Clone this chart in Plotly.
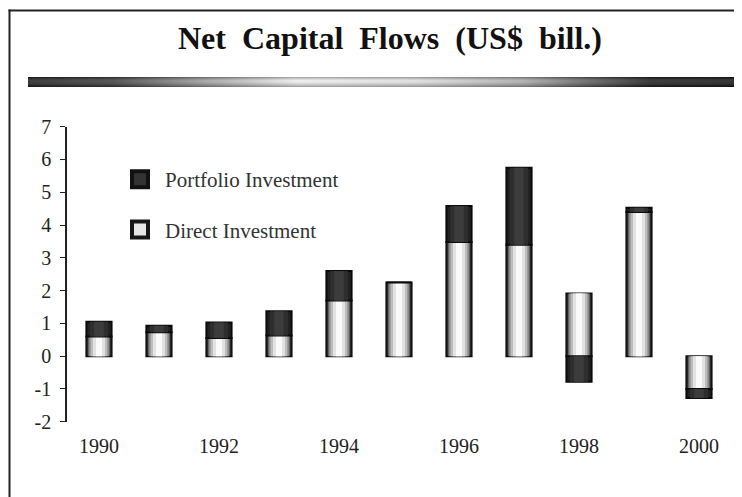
import base64
import plotly.graph_objects as go

# ---- data (US$ bill.) ----
years = [1990, 1991, 1992, 1993, 1994, 1995, 1996, 1997, 1998, 1999, 2000]
direct = [0.60, 0.73, 0.55, 0.63, 1.70, 2.25, 3.48, 3.40, 1.91, 4.40, -1.00]
portfolio = [0.45, 0.20, 0.48, 0.74, 0.90, 0.0, 1.10, 2.35, -0.78, 0.13, -0.28]
year_labels = [1990, 1992, 1994, 1996, 1998, 2000]
y_ticks = [-2, -1, 0, 1, 2, 3, 4, 5, 6, 7]
y_tick_text = ["-2", "-1", "0", "1", "2", "3", "4", "5", "6", "7"]

W, H = 742, 497
OFF = 8  # page body margin offset
FONT = "Liberation Serif"


def px(x):
    return (x - OFF) / W


def py(y):
    return 1 - (y - OFF) / H


# stacked bases (relative stacking)
direct_base = [0] * len(direct)
portfolio_base = [d if (d >= 0) == (p >= 0) else 0 for d, p in zip(direct, portfolio)]

# plot area (screen pixels)
x_dom = [px(67), px(729)]
y_dom = [py(421.7), py(126.7)]
y_range = [-2, 7]
x_range = [1989.467, 2000.5]
zero_pos = y_dom[0] + (0 - y_range[0]) / (y_range[1] - y_range[0]) * (y_dom[1] - y_dom[0])

fig = go.Figure()

# gradient-like bars: overlay narrowing layers
direct_layers = [(0.42, "#3c3c3c"), (0.35, "#8a8a8a"), (0.28, "#bdbdbd"), (0.20, "#e2e2e2"), (0.10, "#fafafa")]
port_layers = [(0.42, "#222222"), (0.30, "#2e2e2e"), (0.16, "#3c3c3c")]

for i, (w, c) in enumerate(direct_layers):
    fig.add_trace(go.Bar(
        x=years, y=direct, base=direct_base, width=w, name="Direct Investment",
        marker=dict(color=c, line=dict(color="#111", width=2 if i == 0 else 0)),
        showlegend=False, hoverinfo="skip"))
for i, (w, c) in enumerate(port_layers):
    fig.add_trace(go.Bar(
        x=years, y=portfolio, base=portfolio_base, width=w, name="Portfolio Investment",
        marker=dict(color=c, line=dict(color="#0a0a0a", width=2 if i == 0 else 0)),
        showlegend=False, hoverinfo="skip"))

# legend entries (large swatches like the original key)
fig.add_trace(go.Scatter(x=[None], y=[None], mode="markers", name="Portfolio Investment",
                         marker=dict(symbol="square", size=16, color="#333",
                                     line=dict(color="#111", width=4)),
                         legendgroup="p", legendrank=1))
fig.add_trace(go.Scatter(x=[None], y=[None], mode="markers", name="Direct Investment",
                         marker=dict(symbol="square", size=16, color="#e6e6e6",
                                     line=dict(color="#161616", width=4)),
                         legendgroup="d", legendrank=2))

# gradient rule under the title (decorative image)
svg = (
    '<svg xmlns="http://www.w3.org/2000/svg" width="707" height="10" preserveAspectRatio="none">'
    '<defs><linearGradient id="g" x1="0" y1="0" x2="1" y2="0">'
    '<stop offset="0" stop-color="#1c1c1c"/><stop offset="0.12" stop-color="#3a3a3a"/>'
    '<stop offset="0.25" stop-color="#9a9a9a"/><stop offset="0.38" stop-color="#efefef"/>'
    '<stop offset="0.55" stop-color="#dedede"/><stop offset="0.70" stop-color="#a8a8a8"/>'
    '<stop offset="0.80" stop-color="#555"/><stop offset="0.88" stop-color="#1a1a1a"/>'
    '<stop offset="1" stop-color="#111"/></linearGradient>'
    '<linearGradient id="v" x1="0" y1="0" x2="0" y2="1">'
    '<stop offset="0" stop-color="#000" stop-opacity="0.35"/><stop offset="0.4" stop-color="#fff" stop-opacity="0.15"/>'
    '<stop offset="1" stop-color="#000" stop-opacity="0.35"/></linearGradient></defs>'
    '<rect width="707" height="10" fill="url(#g)"/><rect width="707" height="10" fill="url(#v)"/></svg>'
)
src = "data:image/svg+xml;base64," + base64.b64encode(svg.encode()).decode()
fig.add_layout_image(dict(source=src, xref="paper", yref="paper", x=px(28), y=py(77),
                          sizex=707 / W, sizey=10 / H, sizing="stretch", layer="above",
                          xanchor="left", yanchor="top"))

# frame (top and left edges of the scanned slide)
fig.add_shape(type="rect", xref="paper", yref="paper", x0=px(8.5), x1=1.0, y0=py(11.5), y1=py(9.5),
              line=dict(width=0), fillcolor="#222")
fig.add_shape(type="rect", xref="paper", yref="paper", x0=px(8.5), x1=px(10.5), y0=0.0, y1=py(9.5),
              line=dict(width=0), fillcolor="#222")

SP = "\u2002"
title_text = "<b>" + SP.join(["Net", "Capital", "Flows", "(US$", "bill.)"]) + "</b>"

fig.update_layout(
    width=W, height=H, margin=dict(l=0, r=0, t=0, b=0, autoexpand=False),
    paper_bgcolor="white", plot_bgcolor="white",
    barmode="overlay",
    font=dict(family=FONT, color="#222", size=20),
    title=dict(text=title_text, x=px(390), xanchor="center",
               y=py(38), yanchor="middle", yref="container", xref="container",
               font=dict(family=FONT, size=32, color="#111")),
    xaxis=dict(domain=x_dom, range=x_range, tickmode="array", tickvals=year_labels,
               ticks="", showline=False, showgrid=False, zeroline=False, automargin=False,
               tickfont=dict(size=20), ticklabelstandoff=10),
    xaxis2=dict(domain=x_dom, range=x_range, overlaying="x", anchor="free", position=zero_pos,
                showline=True, linecolor="#222", linewidth=1.5, tickmode="array",
                tickvals=[y + 0.5 for y in [years[0] - 1] + years], showticklabels=False,
                ticks="outside", ticklen=4, tickwidth=1.2, tickcolor="#222", automargin=False,
                showgrid=False, zeroline=False),
    yaxis=dict(domain=y_dom, range=y_range, tickmode="array", tickvals=y_ticks, ticktext=y_tick_text,
               showline=True, linecolor="#222", linewidth=1.5, ticks="outside", ticklen=5,
               tickwidth=1.2, tickcolor="#222", showgrid=False, zeroline=False, automargin=False,
               tickfont=dict(size=20), ticklabelstandoff=5),
    legend=dict(x=px(115), y=py(159), xanchor="left", yanchor="top", bgcolor="rgba(0,0,0,0)",
                font=dict(family=FONT, size=21, color="#333"), tracegroupgap=20,
                traceorder="grouped", itemwidth=40),
)

fig.write_html("out.html")
